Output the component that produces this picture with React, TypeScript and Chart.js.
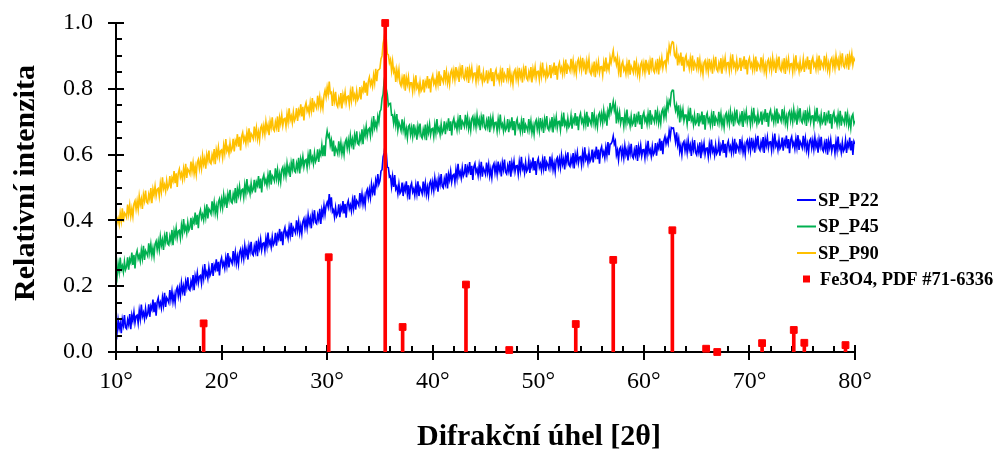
import { useEffect, useRef } from "react";
import { Chart, registerables } from "chart.js";

Chart.register(...registerables);

// Scan grid: 2θ from 10° to 80° in 0.1° steps (one row below = one degree)
const SCAN_START = 10;
const SCAN_STEP = 0.1;
// Intensities are stored as relative intensity × 1000
const PER_MILLE = 1000;

const SP_P22 = [
  84, 59, 97, 71, 88, 57, 99, 81, 112, 75,
  71, 98, 83, 115, 69, 112, 95, 121, 89, 109,
  112, 88, 126, 101, 144, 108, 120, 101, 132, 107,
  116, 145, 107, 139, 129, 159, 121, 151, 110, 152,
  164, 139, 151, 133, 166, 142, 180, 137, 165, 159,
  150, 188, 159, 185, 152, 174, 150, 187, 196, 170,
  195, 170, 210, 184, 201, 171, 214, 196, 227, 192,
  188, 215, 200, 234, 188, 231, 214, 240, 210, 230,
  233, 209, 247, 224, 267, 231, 243, 224, 257, 232,
  241, 270, 231, 263, 252, 282, 245, 274, 233, 274,
  286, 261, 272, 254, 286, 262, 301, 257, 285, 278,
  269, 307, 277, 303, 269, 291, 267, 303, 312, 285,
  310, 284, 323, 296, 313, 281, 323, 305, 335, 299,
  294, 321, 305, 338, 291, 334, 316, 342, 310, 330,
  332, 308, 345, 321, 363, 327, 338, 319, 350, 325,
  333, 362, 323, 355, 344, 374, 337, 366, 325, 366,
  378, 353, 364, 346, 379, 355, 393, 350, 378, 371,
  362, 400, 370, 396, 362, 384, 360, 396, 405, 378,
  403, 378, 416, 390, 407, 376, 418, 400, 431, 394,
  390, 417, 402, 435, 389, 432, 415, 445, 418, 445,
  455, 441, 480, 444, 470, 426, 432, 410, 439, 413,
  421, 449, 410, 441, 430, 459, 421, 450, 408, 449,
  460, 435, 447, 428, 461, 437, 476, 433, 460, 454,
  445, 483, 455, 481, 449, 471, 447, 485, 494, 469,
  494, 470, 510, 485, 503, 476, 522, 507, 541, 510,
  520, 550, 554, 593, 605, 632, 606, 562, 560, 532,
  535, 503, 533, 502, 538, 495, 503, 481, 510, 482,
  488, 515, 474, 504, 491, 519, 480, 507, 464, 503,
  513, 486, 496, 476, 507, 481, 519, 474, 500, 492,
  481, 518, 488, 513, 479, 501, 476, 512, 520, 493,
  517, 491, 529, 503, 519, 487, 529, 510, 541, 504,
  499, 526, 511, 543, 497, 540, 523, 549, 517, 537,
  540, 516, 554, 529, 572, 536, 548, 529, 560, 535,
  544, 571, 531, 561, 549, 577, 538, 566, 523, 563,
  573, 546, 556, 536, 567, 541, 578, 533, 559, 551,
  540, 576, 546, 570, 535, 556, 530, 565, 573, 545,
  568, 541, 579, 551, 566, 534, 575, 555, 585, 547,
  541, 566, 550, 581, 533, 575, 556, 580, 548, 566,
  567, 541, 578, 552, 593, 556, 566, 545, 576, 549,
  556, 583, 544, 574, 562, 591, 552, 580, 538, 578,
  588, 561, 572, 552, 583, 558, 595, 550, 577, 569,
  558, 594, 564, 588, 554, 574, 548, 584, 591, 564,
  587, 561, 598, 571, 587, 555, 596, 577, 607, 569,
  564, 590, 573, 605, 558, 600, 581, 606, 574, 592,
  594, 569, 605, 580, 622, 585, 595, 575, 606, 579,
  587, 615, 576, 606, 595, 624, 586, 615, 572, 613,
  624, 598, 609, 590, 622, 598, 638, 598, 632, 633,
  640, 656, 632, 641, 599, 613, 584, 617, 623, 594,
  617, 590, 627, 600, 615, 582, 623, 603, 633, 595,
  589, 614, 598, 629, 581, 623, 604, 628, 596, 614,
  615, 590, 626, 601, 642, 605, 615, 595, 625, 599,
  606, 635, 597, 629, 619, 649, 612, 642, 601, 643,
  655, 633, 648, 634, 672, 653, 682, 680, 681, 660,
  639, 668, 630, 648, 609, 627, 600, 634, 640, 612,
  634, 607, 643, 615, 629, 596, 636, 616, 644, 606,
  599, 624, 607, 637, 589, 630, 611, 634, 601, 619,
  620, 594, 631, 605, 646, 609, 619, 598, 629, 602,
  609, 636, 597, 627, 615, 644, 605, 633, 591, 631,
  641, 614, 625, 605, 636, 611, 648, 603, 630, 622,
  611, 647, 617, 641, 607, 627, 601, 637, 644, 617,
  640, 613, 651, 623, 638, 606, 647, 627, 657, 619,
  613, 638, 622, 653, 605, 647, 628, 652, 620, 638,
  639, 613, 649, 623, 664, 626, 636, 615, 645, 618,
  625, 652, 612, 642, 630, 658, 619, 647, 604, 644,
  654, 627, 637, 617, 648, 622, 659, 614, 640, 632,
  621, 657, 625, 649, 614, 633, 607, 642, 648, 620,
  643, 616, 652, 624, 639, 606, 646, 626, 654, 616,
  610, 635, 617, 648, 600, 640, 621, 645, 611, 629,
  630, 604, 640, 614, 655, 618, 628, 607, 637, 610,
  617, 644, 605, 635, 624, 652, 613, 642, 599, 640,
  632,
];

const SP_P45 = [
  254, 230, 268, 244, 287, 251, 262, 243, 275, 250,
  259, 288, 250, 282, 272, 302, 265, 295, 254, 296,
  308, 283, 294, 276, 309, 285, 323, 280, 308, 301,
  292, 330, 301, 327, 294, 316, 291, 328, 337, 311,
  336, 311, 350, 324, 341, 310, 352, 334, 365, 329,
  325, 352, 337, 371, 325, 368, 351, 377, 347, 367,
  370, 346, 385, 361, 404, 369, 381, 362, 394, 370,
  379, 408, 371, 403, 393, 424, 387, 417, 376, 419,
  431, 406, 418, 401, 434, 410, 449, 406, 435, 429,
  420, 458, 429, 455, 422, 444, 419, 456, 465, 439,
  464, 439, 478, 452, 469, 438, 480, 462, 493, 457,
  453, 480, 465, 498, 452, 495, 477, 503, 472, 492,
  495, 470, 508, 483, 526, 489, 500, 481, 512, 487,
  495, 523, 485, 516, 506, 535, 497, 527, 485, 527,
  538, 513, 524, 506, 538, 514, 552, 509, 536, 530,
  520, 558, 528, 554, 520, 542, 517, 554, 562, 536,
  560, 535, 573, 547, 563, 532, 575, 556, 587, 550,
  546, 573, 557, 590, 543, 586, 569, 594, 563, 582,
  585, 561, 598, 574, 616, 580, 592, 572, 604, 578,
  587, 616, 578, 609, 599, 629, 595, 628, 595, 650,
  672, 653, 661, 628, 644, 610, 643, 595, 621, 613,
  602, 640, 610, 636, 603, 625, 600, 637, 646, 619,
  644, 619, 657, 631, 647, 616, 659, 640, 671, 634,
  630, 658, 643, 677, 632, 676, 659, 686, 656, 676,
  680, 657, 696, 673, 717, 682, 697, 681, 716, 699,
  731, 737, 770, 784, 824, 845, 800, 783, 749, 755,
  756, 720, 721, 695, 720, 690, 723, 675, 698, 687,
  673, 707, 675, 697, 661, 679, 651, 685, 690, 661,
  682, 655, 692, 663, 678, 645, 686, 666, 694, 656,
  650, 676, 659, 691, 644, 686, 667, 692, 660, 678,
  680, 655, 691, 666, 708, 671, 681, 661, 692, 665,
  673, 701, 662, 692, 681, 710, 672, 701, 658, 699,
  710, 684, 695, 675, 707, 682, 720, 676, 702, 695,
  685, 721, 690, 714, 679, 700, 674, 709, 716, 688,
  711, 684, 720, 692, 707, 674, 714, 694, 722, 684,
  678, 703, 685, 716, 668, 709, 689, 713, 679, 697,
  698, 672, 707, 681, 722, 684, 693, 672, 701, 674,
  681, 708, 668, 697, 685, 713, 674, 702, 658, 698,
  708, 681, 690, 670, 701, 675, 711, 666, 691, 683,
  672, 708, 678, 702, 667, 688, 662, 697, 705, 677,
  700, 673, 711, 683, 699, 666, 707, 688, 717, 680,
  674, 699, 683, 714, 667, 708, 689, 714, 681, 700,
  701, 675, 712, 686, 728, 690, 700, 680, 710, 684,
  691, 718, 679, 709, 698, 726, 688, 716, 674, 714,
  725, 698, 708, 688, 719, 693, 730, 685, 711, 703,
  692, 729, 698, 723, 689, 709, 684, 720, 727, 700,
  724, 697, 734, 706, 721, 688, 733, 719, 757, 728,
  742, 761, 735, 751, 695, 730, 707, 729, 695, 712,
  712, 686, 722, 696, 737, 698, 708, 687, 717, 690,
  697, 724, 684, 715, 703, 731, 692, 720, 678, 718,
  728, 701, 712, 692, 724, 698, 735, 691, 717, 710,
  699, 736, 705, 730, 696, 719, 695, 731, 739, 712,
  737, 716, 760, 740, 764, 754, 789, 796, 795, 753,
  734, 750, 725, 750, 698, 736, 715, 737, 703, 720,
  720, 693, 729, 702, 742, 704, 713, 691, 720, 693,
  699, 726, 686, 715, 703, 731, 692, 720, 676, 716,
  726, 699, 709, 689, 720, 695, 732, 687, 713, 705,
  694, 730, 699, 724, 689, 709, 683, 718, 726, 698,
  721, 694, 731, 704, 719, 686, 727, 707, 737, 699,
  693, 718, 701, 732, 684, 725, 707, 731, 698, 716,
  717, 691, 727, 701, 742, 704, 714, 694, 724, 697,
  704, 731, 691, 722, 710, 738, 699, 727, 685, 725,
  735, 708, 718, 698, 729, 703, 740, 695, 721, 713,
  702, 738, 707, 731, 696, 716, 690, 725, 732, 704,
  727, 700, 737, 709, 724, 691, 732, 712, 741, 703,
  697, 722, 705, 735, 687, 728, 709, 733, 699, 717,
  718, 692, 728, 701, 742, 704, 714, 693, 722, 695,
  702, 729, 689, 718, 706, 734, 695, 723, 679, 719,
  729, 702, 712, 692, 723, 697, 733, 688, 714, 706,
  695, 731, 699, 723, 688, 708, 681, 716, 723, 694,
  703,
];

const SP_P90 = [
  418, 393, 406, 388, 422, 398, 437, 395, 423, 418,
  409, 448, 419, 446, 413, 436, 412, 450, 459, 434,
  459, 434, 474, 448, 465, 435, 478, 460, 491, 456,
  452, 479, 464, 498, 452, 495, 478, 504, 474, 494,
  497, 473, 512, 488, 531, 496, 508, 489, 521, 497,
  506, 535, 497, 529, 519, 550, 513, 543, 502, 544,
  556, 531, 543, 524, 557, 533, 572, 529, 556, 550,
  541, 579, 549, 575, 542, 564, 539, 576, 585, 558,
  583, 558, 597, 571, 588, 557, 599, 581, 612, 576,
  572, 599, 584, 617, 571, 614, 596, 622, 591, 611,
  614, 590, 628, 604, 647, 611, 622, 603, 635, 610,
  619, 648, 610, 642, 632, 662, 624, 654, 613, 655,
  667, 641, 653, 634, 667, 642, 680, 637, 664, 658,
  648, 685, 656, 681, 648, 669, 644, 681, 689, 663,
  687, 662, 700, 674, 690, 659, 701, 683, 713, 677,
  672, 699, 683, 716, 669, 712, 694, 720, 688, 708,
  710, 686, 723, 699, 741, 705, 717, 697, 729, 703,
  712, 741, 702, 734, 723, 753, 716, 745, 704, 745,
  757, 732, 743, 725, 758, 734, 772, 729, 757, 750,
  741, 779, 750, 775, 742, 763, 741, 780, 795, 775,
  804, 783, 822, 786, 789, 748, 786, 763, 791, 752,
  745, 771, 755, 787, 740, 782, 764, 789, 757, 776,
  778, 753, 790, 765, 807, 771, 782, 762, 793, 767,
  775, 805, 768, 801, 792, 824, 788, 819, 779, 822,
  835, 811, 824, 807, 841, 818, 861, 823, 856, 858,
  862, 891, 900, 937, 954, 980, 951, 906, 903, 879,
  889, 855, 884, 851, 860, 821, 858, 834, 858, 817,
  809, 833, 814, 844, 794, 834, 814, 836, 802, 818,
  818, 792, 827, 801, 841, 803, 813, 791, 821, 793,
  800, 828, 789, 821, 810, 839, 801, 830, 789, 830,
  841, 815, 826, 808, 840, 815, 853, 809, 837, 830,
  820, 857, 827, 852, 818, 839, 814, 850, 858, 831,
  855, 828, 866, 838, 854, 821, 862, 843, 872, 835,
  829, 854, 836, 867, 818, 859, 840, 863, 830, 847,
  848, 822, 857, 831, 871, 833, 842, 821, 850, 823,
  829, 856, 816, 846, 834, 862, 823, 851, 808, 848,
  858, 831, 841, 822, 853, 827, 864, 819, 846, 838,
  827, 863, 832, 856, 821, 841, 815, 851, 858, 830,
  853, 826, 864, 836, 851, 819, 860, 840, 870, 832,
  826, 851, 835, 866, 819, 860, 841, 866, 833, 852,
  853, 828, 864, 839, 880, 843, 853, 833, 863, 837,
  844, 872, 832, 863, 851, 880, 842, 870, 828, 868,
  879, 853, 864, 844, 876, 851, 889, 845, 871, 864,
  854, 891, 860, 885, 851, 871, 846, 882, 890, 862,
  886, 858, 894, 864, 878, 844, 884, 863, 890, 851,
  844, 869, 852, 883, 835, 876, 857, 882, 849, 867,
  868, 842, 879, 853, 895, 858, 872, 857, 896, 879,
  898, 916, 886, 893, 874, 896, 854, 879, 835, 874,
  883, 856, 866, 846, 877, 851, 888, 843, 869, 861,
  850, 886, 855, 880, 845, 865, 839, 874, 882, 854,
  877, 850, 888, 860, 875, 843, 884, 864, 894, 856,
  850, 876, 860, 891, 844, 886, 869, 894, 863, 882,
  885, 865, 907, 889, 930, 912, 934, 943, 941, 902,
  896, 917, 871, 897, 883, 910, 870, 897, 853, 892,
  901, 873, 882, 862, 892, 865, 901, 855, 881, 872,
  860, 896, 864, 888, 852, 872, 845, 880, 886, 858,
  880, 853, 891, 863, 878, 846, 887, 867, 897, 859,
  853, 878, 862, 893, 846, 887, 868, 893, 860, 879,
  880, 854, 890, 864, 905, 868, 878, 857, 887, 860,
  867, 894, 854, 883, 871, 899, 860, 888, 844, 884,
  894, 867, 877, 857, 888, 862, 898, 853, 879, 871,
  860, 896, 865, 889, 854, 874, 848, 882, 889, 861,
  884, 857, 894, 866, 881, 848, 889, 869, 898, 860,
  854, 879, 862, 893, 845, 886, 867, 891, 858, 876,
  877, 851, 887, 861, 902, 864, 874, 853, 883, 856,
  863, 890, 851, 881, 869, 898, 859, 887, 845, 885,
  895, 868, 878, 859, 890, 864, 901, 856, 883, 875,
  864, 900, 869, 893, 858, 878, 852, 887, 894, 866,
  889, 863, 900, 873, 888, 856, 898, 878, 908, 870,
  865, 891, 874, 906, 858, 900, 881, 906, 873, 892,
  884,
];

// Fe3O4 reference pattern (PDF #71-6336): peak positions and relative intensities
const PDF_ANGLES = [18.3, 30.15, 35.5, 37.15, 43.15, 47.25, 53.55, 57.1, 62.7, 65.9, 66.95, 71.2, 74.2, 75.2, 79.1];
const PDF_INTENSITY = [0.087, 0.288, 1.0, 0.076, 0.205, 0.006, 0.085, 0.28, 0.37, 0.01, 0.0, 0.027, 0.067, 0.028, 0.021];

const SERIES_LABELS = ["SP_P22", "SP_P45", "SP_P90"];
const PDF_LABEL = "Fe3O4, PDF #71-6336";
const X_TITLE = "Difrakční úhel [2θ]";
const Y_TITLE = "Relativní intenzita";

const X_TICKS = [10, 20, 30, 40, 50, 60, 70, 80];
const Y_TICKS = [0, 0.2, 0.4, 0.6, 0.8, 1.0];
const X_MINOR_STEP = 2;
const Y_MINOR_STEP = 0.05;

const SERIES_COLORS = ["#0000FF", "#00B050", "#FFC000"];
const PDF_COLOR = "#FF0000";
const FONT = "'Liberation Serif', 'Times New Roman', serif";

const STEM_INDEX = 3;

function toPoints(values: number[]) {
  return values.map((v, i) => ({ x: SCAN_START + i * SCAN_STEP, y: v / PER_MILLE }));
}

function drawFrame(chart: any) {
  const { ctx, chartArea } = chart;
  const xs = chart.scales.x;
  const ys = chart.scales.y;
  const { left, right, top, bottom } = chartArea;
  ctx.save();
  ctx.strokeStyle = "#000";
  ctx.lineWidth = 2;
  ctx.lineCap = "butt";
  ctx.beginPath();
  ctx.moveTo(left, top);
  ctx.lineTo(left, bottom + 1);
  ctx.moveTo(left - 1, bottom);
  ctx.lineTo(right, bottom);
  // y: major ticks cross the axis, minor ticks point inward
  for (const v of Y_TICKS) {
    const p = Math.round(ys.getPixelForValue(v));
    ctx.moveTo(left - 8, p);
    ctx.lineTo(left + 8, p);
  }
  for (let v = Y_MINOR_STEP; v < ys.max; v += Y_MINOR_STEP) {
    const rounded = Math.round(v * 100) / 100;
    if (Y_TICKS.some((t) => Math.abs(t - rounded) < 1e-6)) continue;
    const p = Math.round(ys.getPixelForValue(rounded));
    ctx.moveTo(left, p);
    ctx.lineTo(left + 6, p);
  }
  // x: same scheme
  for (const v of X_TICKS) {
    const p = Math.round(xs.getPixelForValue(v));
    ctx.moveTo(p, bottom - 7);
    ctx.lineTo(p, bottom + 8);
  }
  for (let v = xs.min + X_MINOR_STEP; v < xs.max; v += X_MINOR_STEP) {
    if (X_TICKS.includes(v)) continue;
    const p = Math.round(xs.getPixelForValue(v));
    ctx.moveTo(p, bottom - 6);
    ctx.lineTo(p, bottom);
  }
  ctx.stroke();
  ctx.restore();
}

const framePlugin = {
  id: "xrdFrame",
  beforeDatasetDraw(chart: any, args: any) {
    if (args.index === STEM_INDEX) drawFrame(chart);
  },
  afterDraw(chart: any) {
    const { ctx } = chart;
    ctx.save();
    ctx.fillStyle = "#000";
    ctx.font = `bold 30px ${FONT}`;
    ctx.textAlign = "center";
    ctx.textBaseline = "alphabetic";
    ctx.fillText(X_TITLE, 539, 445);
    ctx.translate(34, 183);
    ctx.rotate(-Math.PI / 2);
    ctx.fillText(Y_TITLE, 0, 0);
    ctx.restore();

    // legend
    ctx.save();
    ctx.font = `bold 18.5px ${FONT}`;
    ctx.textAlign = "left";
    ctx.textBaseline = "middle";
    const rows = [200, 226.5, 253, 279];
    SERIES_LABELS.forEach((label, i) => {
      const y = rows[i];
      ctx.strokeStyle = SERIES_COLORS[i];
      ctx.lineWidth = 2;
      ctx.beginPath();
      ctx.moveTo(797, y);
      ctx.lineTo(816, y);
      ctx.stroke();
      ctx.fillStyle = "#000";
      ctx.fillText(label, 818, y + 1);
    });
    ctx.fillStyle = PDF_COLOR;
    ctx.fillRect(803, rows[3] - 3.5, 7, 7);
    ctx.fillStyle = "#000";
    ctx.fillText(PDF_LABEL, 820, rows[3] + 1);
    ctx.restore();
  },
};

export default function App() {
  const canvasRef = useRef<HTMLCanvasElement | null>(null);

  useEffect(() => {
    const canvas = canvasRef.current;
    if (!canvas) return;
    const pdfPoints = PDF_ANGLES.map((x, i) => ({ x, y: PDF_INTENSITY[i] }));
    const seriesValues = [SP_P22, SP_P45, SP_P90];
    const curveDatasets = seriesValues.map((values, i) => ({
      type: "line" as const,
      label: SERIES_LABELS[i],
      data: toPoints(values),
      borderColor: SERIES_COLORS[i],
      backgroundColor: SERIES_COLORS[i],
      borderWidth: 1.6,
      pointRadius: 0,
      tension: 0,
      order: 2 + i,
    }));

    const chart = new Chart(canvas, {
      type: "scatter",
      data: {
        datasets: [
          ...curveDatasets,
          {
            type: "bar" as const,
            label: PDF_LABEL,
            data: pdfPoints,
            backgroundColor: PDF_COLOR,
            barThickness: 3,
            grouped: false,
            order: 1,
          },
          {
            type: "scatter" as const,
            label: PDF_LABEL,
            data: pdfPoints,
            pointStyle: "rect",
            pointRadius: 4.8,
            backgroundColor: PDF_COLOR,
            borderColor: PDF_COLOR,
            borderWidth: 1,
            clip: false,
            order: 0,
          },
        ] as any,
      },
      options: {
        responsive: false,
        animation: false,
        devicePixelRatio: 1,
        layout: { padding: { top: 23, right: 144, left: 0, bottom: 0 } },
        plugins: {
          legend: { display: false },
          tooltip: { enabled: false },
        },
        scales: {
          x: {
            type: "linear",
            min: 10,
            max: 80,
            offset: false,
            afterFit: (s: any) => {
              s.height = 98;
              s.paddingLeft = 0;
              s.paddingRight = 0;
            },
            afterBuildTicks: (s: any) => {
              s.ticks = X_TICKS.map((value) => ({ value }));
            },
            grid: { display: false, drawTicks: false },
            border: { display: false },
            ticks: {
              padding: 15,
              color: "#000",
              maxRotation: 0,
              autoSkip: false,
              font: { family: FONT, size: 24 },
              callback: (v: any) => `${v}°`,
            },
          },
          y: {
            type: "linear",
            min: 0,
            max: 1,
            afterFit: (s: any) => {
              s.width = 116;
              s.paddingTop = 0;
              s.paddingBottom = 0;
            },
            afterBuildTicks: (s: any) => {
              s.ticks = Y_TICKS.map((value) => ({ value }));
            },
            grid: { display: false, drawTicks: false },
            border: { display: false },
            ticks: {
              padding: 23,
              color: "#000",
              font: { family: FONT, size: 24 },
              callback: (v: any) => Number(v).toFixed(1),
            },
          },
        },
      } as any,
      plugins: [framePlugin],
    });
    return () => chart.destroy();
  }, []);

  return (
    <div style={{ position: "absolute", left: 0, top: 0, width: 999, height: 450, background: "#fff" }}>
      <canvas ref={canvasRef} width={999} height={450} style={{ display: "block" }} />
    </div>
  );
}
